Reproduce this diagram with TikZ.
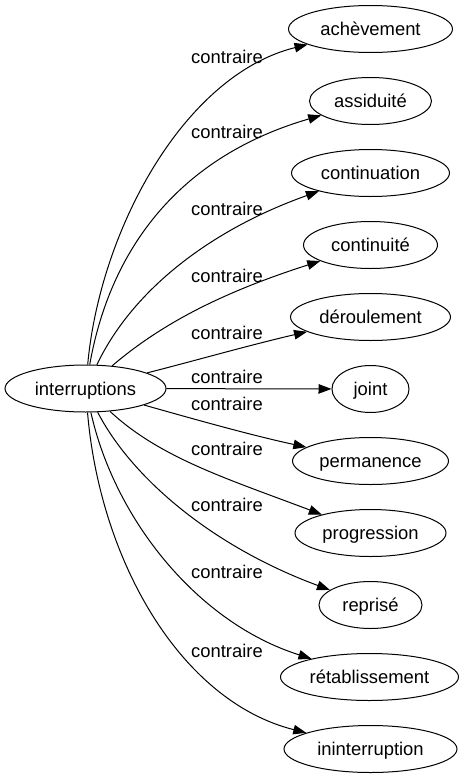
\documentclass[tikz,border=0pt]{standalone}
\usepackage{fontspec}
\setmainfont{Liberation Sans}
\usetikzlibrary{arrows.meta,shapes.geometric}
\begin{document}
\begin{tikzpicture}[x=1pt,y=-1pt,
  term/.style={draw, ellipse, inner sep=0pt, minimum height=47pt,
    text height=13.5pt, text depth=0.5pt,
    font=\fontsize{18.4}{22}\selectfont, line width=1pt},
  lbl/.style={anchor=base, inner sep=0pt, font=\fontsize{18.4}{22}\selectfont},
  rel/.style={draw, line width=1pt, -{Triangle[length=13pt,width=9.5pt]}}
]
\useasboundingbox (0,0) rectangle (466,779);
\node[term, minimum width=161pt] (int) at (85.5,388.5) {interruptions};
\node[term, minimum width=164pt] (ach) at (370.5,29) {achèvement};
\node[term, minimum width=122pt] (ass) at (370.5,101) {assiduité};
\node[term, minimum width=158pt] (contn) at (370.5,173) {continuation};
\node[term, minimum width=134pt] (conti) at (370.5,245) {continuité};
\node[term, minimum width=160pt] (der) at (370.5,317) {déroulement};
\node[term, minimum width=77pt] (joint) at (370.5,389) {joint};
\node[term, minimum width=156pt] (perm) at (370.5,461) {permanence};
\node[term, minimum width=151pt] (prog) at (370.5,533) {progression};
\node[term, minimum width=103pt] (repr) at (370.5,605) {reprisé};
\node[term, minimum width=178pt] (ret) at (369.5,677) {rétablissement};
\node[term, minimum width=173pt] (inint) at (370.5,749) {ininterruption};

\draw[rel] (int) .. controls (100,230) and (184,75) .. (ach);
\draw[rel] (int) .. controls (110,250) and (178,157) .. (ass);
\draw[rel] (int) .. controls (135,285) and (218,227) .. (contn);
\draw[rel] (int) .. controls (160,325) and (220,293) .. (conti);
\draw[rel] (int) .. controls (190,362) and (250,345) .. (der);
\draw[rel] (int) -- (joint);
\draw[rel] (int) .. controls (190,418) and (250,435) .. (perm);
\draw[rel] (int) .. controls (160,458) and (228,479) .. (prog);
\draw[rel] (int) .. controls (130,475) and (208.5,545) .. (repr);
\draw[rel] (int) .. controls (115,520) and (198,623) .. (ret);
\draw[rel] (int) .. controls (100,560) and (180,701) .. (inint);

\node[lbl] (l1) at (227,63) {contraire};
\node[lbl] (l2) at (227,138) {contraire};
\node[lbl] (l3) at (227,215) {contraire};
\node[lbl] (l4) at (227,282) {contraire};
\node[lbl] (l5) at (227,339) {contraire};
\node[lbl] (l6) at (227,383) {contraire};
\node[lbl] (l7) at (227,410) {contraire};
\node[lbl] (l8) at (227,455) {contraire};
\node[lbl] (l9) at (227,511) {contraire};
\node[lbl] (l10) at (227,578) {contraire};
\node[lbl] (l11) at (227,657) {contraire};
\end{tikzpicture}
\end{document}
